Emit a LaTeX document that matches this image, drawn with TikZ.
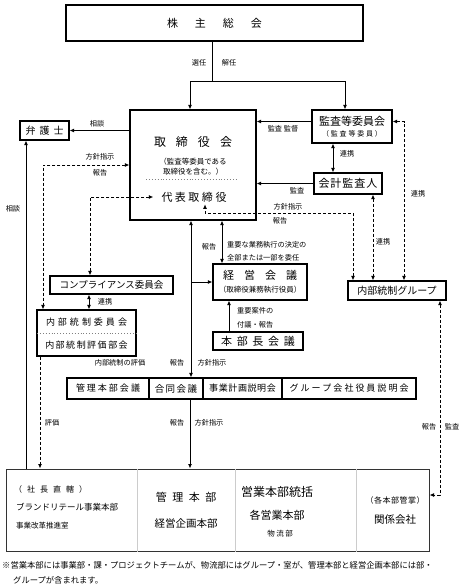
\documentclass[tikz,border=0pt]{standalone}
\usepackage{fontspec}
\setmainfont{Noto Sans CJK JP}
\usetikzlibrary{arrows.meta}
% letter spaced text: \spaced{gap}{text}
\newcommand\spaced[2]{\def\spacedgap{#1}\spacedloop#2\relax}
\def\spacedloop#1#2{#1\ifx\relax#2\else\hspace{\spacedgap}\expandafter\spacedloop\expandafter#2\fi}
\tikzset{
  box/.style={draw, line width=1.1pt, fill=white, inner sep=0pt},
  lbl/.style={font=\fontsize{7.2}{8}\selectfont, inner sep=0pt},
  line/.style={line width=1pt},
  dsh/.style={line width=1pt, dash pattern=on 3pt off 2pt},
  divider/.style={gray, dotted, line width=0.9pt},
}
\begin{document}
\begin{tikzpicture}[x=1pt, y=-1pt, line join=miter, >={Latex[length=4.5pt,width=4pt]}]
\useasboundingbox (0,0) rectangle (464,586);
% Shareholders
\node [box, minimum width=297pt, minimum height=36pt, font=\fontsize{11}{13}\selectfont] (soukai) at (214.5, 23) {\spaced{17pt}{株主総会}};
% Board
\node [box, minimum width=126pt, minimum height=110pt] (torishimari) at (193, 165) {};
\node [font=\fontsize{12}{14}\selectfont, inner sep=0pt] (toriname) at (193, 142) {\spaced{10pt}{取締役会}};
\node [font=\fontsize{7.5}{9.5}\selectfont, align=center, inner sep=0pt] (torinote) at (193, 166.5) {（監査等委員である\\取締役を含む。）};
\draw [divider] (146, 179) -- (238, 179);
\node [font=\fontsize{11}{13}\selectfont, inner sep=2pt] (daihyo) at (194, 197) {\spaced{2.5pt}{代表取締役}};
% Lawyer
\node [box, minimum width=49pt, minimum height=19pt, font=\fontsize{10}{12}\selectfont] (bengoshi) at (44.5, 130.5) {\spaced{4pt}{弁護士}};
% Audit
\node [box, minimum width=80pt, minimum height=33pt] (kansa) at (352, 126.5) {};
\node [font=\fontsize{11}{13}\selectfont, inner sep=0pt] (kansaname) at (352, 121) {監査等委員会};
\node [font=\fontsize{7}{8}\selectfont, inner sep=0pt] (kansasub) at (352, 134) {\spaced{1.8pt}{（監査等委員）}};
\node [box, minimum width=68pt, minimum height=21pt, font=\fontsize{11}{13}\selectfont] (kaikei) at (348, 183.5) {\spaced{1pt}{会計監査人}};
\node [box, minimum width=98pt, minimum height=19pt, font=\fontsize{10}{12}\selectfont] (naibug) at (397, 290.5) {内部統制グループ};
% Committees
\node [box, minimum width=123pt, minimum height=18pt, font=\fontsize{9.5}{11}\selectfont] (compl) at (111.5, 285) {コンプライアンス委員会};
\node [box, minimum width=99pt, minimum height=46pt] (naibu) at (86.5, 333) {};
\node [font=\fontsize{9}{11}\selectfont, inner sep=0pt] (naibuname) at (86.5, 322) {\spaced{3pt}{内部統制委員会}};
\draw [divider] (37, 333) -- (136, 333);
\node [font=\fontsize{9}{11}\selectfont, inner sep=0pt] (hyoka) at (86.5, 345) {\spaced{1.5pt}{内部統制評価部会}};
% Management
\node [box, minimum width=94pt, minimum height=36pt] (keiei) at (260, 282) {};
\node [font=\fontsize{11}{13}\selectfont, inner sep=0pt] (keieiname) at (260, 275) {\spaced{10pt}{経営会議}};
\node [font=\fontsize{7.5}{9}\selectfont, inner sep=0pt] (keieisub) at (260, 290) {（取締役兼務執行役員）};
\node [box, minimum width=90pt, minimum height=18pt, font=\fontsize{11}{13}\selectfont] (honbu) at (258, 341) {\spaced{4.7pt}{本部長会議}};
% Meeting row
\node [box, minimum width=82pt, minimum height=21pt, font=\fontsize{9}{11}\selectfont] (kanri) at (108, 388.5) {\spaced{2pt}{管理本部会議}};
\node [box, minimum width=54pt, minimum height=21pt, font=\fontsize{9.5}{11}\selectfont] (godo) at (176, 388.5) {\spaced{1.5pt}{合同会議}};
\node [box, minimum width=79pt, minimum height=21pt, font=\fontsize{9}{11}\selectfont] (jigyo) at (242.5, 388.5) {\spaced{0.6pt}{事業計画説明会}};
\node [box, minimum width=134pt, minimum height=21pt, font=\fontsize{9}{11}\selectfont] (gkaisha) at (349, 388.5) {\spaced{2pt}{グループ会社役員説明会}};
% Organisation
\node [box, draw=black!80, line width=1pt, minimum width=423pt, minimum height=82pt] (soshiki) at (217.5, 510) {};
\foreach \x in {137, 235, 356}
  \draw [black!20, line width=0.8pt] (soshiki.north -| \x, 0) -- (soshiki.south -| \x, 0);
\node [font=\fontsize{8}{10}\selectfont, inner sep=0pt, anchor=west] (chokkatsu) at (14, 489) {\spaced{5pt}{（社長直轄）}};
\node [font=\fontsize{8.5}{10}\selectfont, inner sep=0pt, anchor=west] (brand) at (16, 507) {ブランドリテール事業本部};
\node [font=\fontsize{7.5}{9}\selectfont, inner sep=0pt, anchor=west] (kaikaku) at (16, 526) {事業改革推進室};
\node [font=\fontsize{11}{13}\selectfont, inner sep=0pt] (kanrihonbu) at (186, 497) {\spaced{5.5pt}{管理本部}};
\node [font=\fontsize{10.5}{12}\selectfont, inner sep=0pt] (kikaku) at (186, 523) {経営企画本部};
\node [font=\fontsize{12}{14}\selectfont, inner sep=0pt] (eigyo) at (277, 492) {営業本部統括};
\node [font=\fontsize{11}{13}\selectfont, inner sep=0pt] (kakueigyo) at (277, 515) {各営業本部};
\node [font=\fontsize{7.5}{9}\selectfont, inner sep=0pt] (butsuryu) at (280, 534) {\spaced{1.5pt}{物流部}};
\node [font=\fontsize{8}{10}\selectfont, inner sep=0pt] (kansho) at (395, 500) {\spaced{0.5pt}{（各本部管掌）}};
\node [font=\fontsize{10.5}{12}\selectfont, inner sep=0pt] (kankei) at (395, 520) {関係会社};
% Note
\node [font=\fontsize{8.3}{10}\selectfont, inner sep=0pt, anchor=west] (note1) at (2, 565) {※営業本部には事業部・課・プロジェクトチームが、物流部にはグループ・室が、管理本部と経営企画本部には部・};
\node [font=\fontsize{8.3}{10}\selectfont, inner sep=0pt, anchor=west] (note2) at (13, 580) {グループが含まれます。};
% Solid connectors
\draw [line] ([xshift=-2.5pt]soukai.south) -- ++(0,40) coordinate (split);
\draw [line, ->] (split) -| ([xshift=-3pt]torishimari.north);
\draw [line, ->] (split) -| ([xshift=-7pt]kansa.north);
\draw [line, ->] (torishimari.west |- bengoshi.east) -- (bengoshi.east);
\draw [line, ->] ([yshift=5pt]kansa.west) -- ([yshift=5pt]kansa.west -| torishimari.east);
\draw [line, <->] ([xshift=-19pt]kansa.south) -- ([xshift=-19pt]kansa.south |- kaikei.north);
\draw [line, ->] (kaikei.west) -- (kaikei.west -| torishimari.east);
\draw [line, <->] ([xshift=-22.5pt]compl.south) -- ([xshift=-22.5pt]compl.south |- naibu.north);
\draw [line, ->] ([xshift=-18.5pt]bengoshi.south |- soshiki.north) -- ([xshift=-18.5pt]bengoshi.south);
\draw [line, <->] ([xshift=-2pt]torishimari.south) -- ([xshift=-2pt]torishimari.south |- godo.north);
\draw [line, ->] ([xshift=-2pt]torishimari.south |- keiei.west) -- (keiei.west);
\draw [line, <->] ([xshift=29pt]torishimari.south) -- ([xshift=29pt]torishimari.south |- keiei.north);
\draw [line, ->] ([xshift=-29pt]honbu.north) -- ([xshift=-29pt]honbu.north |- keiei.south);
\draw [line, ->] ([xshift=14pt]godo.south) -- ([xshift=14pt]godo.south |- soshiki.north);
% Dashed connectors
\draw [dsh, <->] ([xshift=-44pt]naibug.north) |- ([xshift=11pt,yshift=-9.5pt]daihyo.south) -- ([xshift=11pt]daihyo.south);
\draw [dsh, <->] ([xshift=25pt]kaikei.south) -- ([xshift=25pt]kaikei.south |- naibug.north);
\draw [dsh, <->] ([yshift=5pt]kansa.east) -| ([xshift=7pt]naibug.north);
\draw [dsh, <->] ([xshift=43pt]naibug.south) |- ([yshift=15pt]soshiki.east);
\draw [dsh, <->] (torishimari.west) -| ([xshift=-43.5pt]naibu.north);
\draw [dsh, <->] ([xshift=-6pt]daihyo.west) -| ([xshift=-21.5pt]compl.north);
\draw [dsh, ->] ([xshift=-46.5pt]naibu.south) -- ([xshift=-46.5pt]naibu.south |- soshiki.north);
% Labels
\node [lbl] (l-senin) at (199, 63) {選任};
\node [lbl] (l-kainin) at (229, 63) {解任};
\node [lbl] (l-sodan1) at (97, 124) {相談};
\node [lbl] (l-hoshin1) at (100, 157) {方針指示};
\node [lbl] (l-hokoku1) at (100, 173) {報告};
\node [lbl] (l-sodan2) at (13, 209) {相談};
\node [lbl] (l-kantoku) at (283, 129) {監査 監督};
\node [lbl] (l-renkei1) at (347, 154) {連携};
\node [lbl] (l-kansa1) at (297, 191) {監査};
\node [lbl] (l-hoshin2) at (288, 207) {方針指示};
\node [lbl] (l-hokoku2) at (280, 221) {報告};
\node [lbl] (l-renkei2) at (418, 194) {連携};
\node [lbl] (l-renkei3) at (383, 242) {連携};
\node [lbl] (l-hokoku3) at (209, 247) {報告};
\node [lbl, anchor=west] (l-inin1) at (227, 245) {重要な業務執行の決定の};
\node [lbl, anchor=west] (l-inin2) at (227, 258) {全部または一部を委任};
\node [lbl] (l-renkei4) at (105, 302) {連携};
\node [lbl, anchor=west] (l-fugi1) at (237, 311) {重要案件の};
\node [lbl, anchor=west] (l-fugi2) at (237, 325) {付議・報告};
\node [lbl] (l-hyoka1) at (120, 363) {内部統制の評価};
\node [lbl] (l-hokoku4) at (177, 363) {報告};
\node [lbl] (l-hoshin3) at (212, 363) {方針指示};
\node [lbl] (l-hyoka2) at (52, 423) {評価};
\node [lbl] (l-hokoku5) at (177, 423) {報告};
\node [lbl] (l-hoshin4) at (209, 423) {方針指示};
\node [lbl] (l-hokoku6) at (429, 427) {報告};
\node [lbl] (l-kansa2) at (452, 427) {監査};
\end{tikzpicture}
\end{document}
